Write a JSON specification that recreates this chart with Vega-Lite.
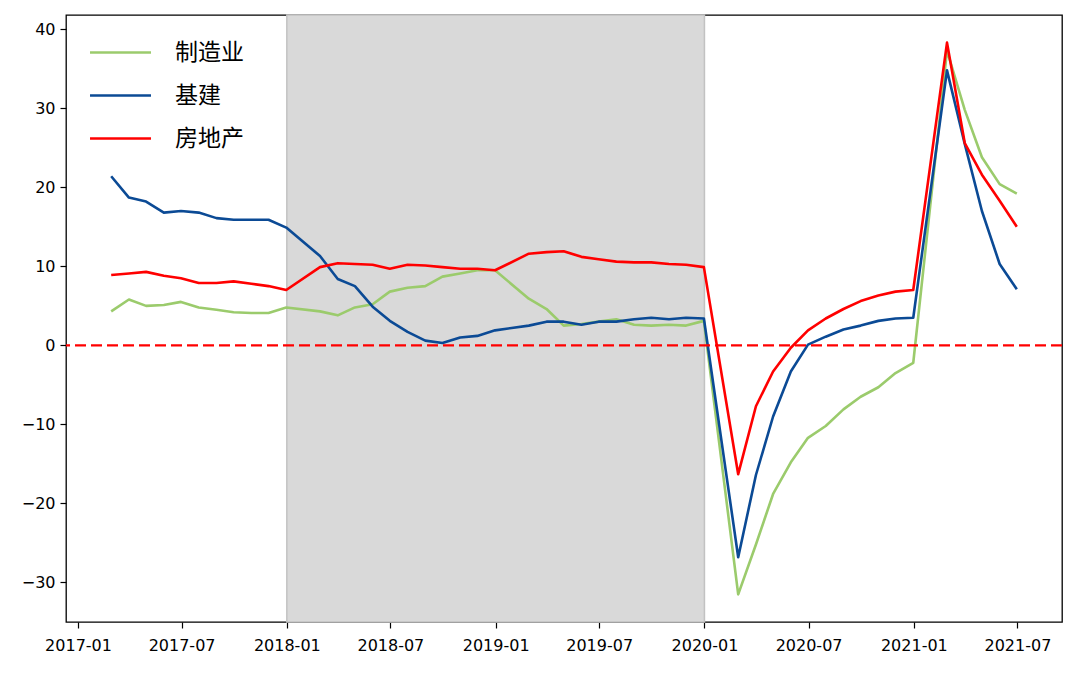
{
  "$schema": "https://vega.github.io/schema/vega-lite/v6.json",
  "width": 996,
  "height": 607,
  "autosize": {"type": "none"},
  "padding": {"left": 66, "top": 15, "right": 18, "bottom": 52},
  "background": "white",
  "config": {
    "view": {"stroke": "#000000", "strokeWidth": 1.3},
    "axis": {"grid": false, "domain": false, "tickColor": "#000000", "tickSize": 6, "tickWidth": 1.2, "labelColor": "#000000", "labelFont": "DejaVu Sans", "title": null}
  },
  "datasets": {
    "fai": [
      {"date": "2017-02-28", "制造业": 4.3, "基建": 21.4, "房地产": 8.9},
      {"date": "2017-03-31", "制造业": 5.8, "基建": 18.7, "房地产": 9.1},
      {"date": "2017-04-30", "制造业": 5.0, "基建": 18.2, "房地产": 9.3},
      {"date": "2017-05-31", "制造业": 5.1, "基建": 16.8, "房地产": 8.8},
      {"date": "2017-06-30", "制造业": 5.5, "基建": 17.0, "房地产": 8.5},
      {"date": "2017-07-31", "制造业": 4.8, "基建": 16.8, "房地产": 7.9},
      {"date": "2017-08-31", "制造业": 4.5, "基建": 16.1, "房地产": 7.9},
      {"date": "2017-09-30", "制造业": 4.2, "基建": 15.9, "房地产": 8.1},
      {"date": "2017-10-31", "制造业": 4.1, "基建": 15.9, "房地产": 7.8},
      {"date": "2017-11-30", "制造业": 4.1, "基建": 15.9, "房地产": 7.5},
      {"date": "2017-12-31", "制造业": 4.8, "基建": 14.9, "房地产": 7.0},
      {"date": "2018-02-28", "制造业": 4.3, "基建": 11.3, "房地产": 9.9},
      {"date": "2018-03-31", "制造业": 3.8, "基建": 8.4, "房地产": 10.4},
      {"date": "2018-04-30", "制造业": 4.8, "基建": 7.5, "房地产": 10.3},
      {"date": "2018-05-31", "制造业": 5.2, "基建": 4.9, "房地产": 10.2},
      {"date": "2018-06-30", "制造业": 6.8, "基建": 3.1, "房地产": 9.7},
      {"date": "2018-07-31", "制造业": 7.3, "基建": 1.7, "房地产": 10.2},
      {"date": "2018-08-31", "制造业": 7.5, "基建": 0.6, "房地产": 10.1},
      {"date": "2018-09-30", "制造业": 8.7, "基建": 0.3, "房地产": 9.9},
      {"date": "2018-10-31", "制造业": 9.1, "基建": 1.0, "房地产": 9.7},
      {"date": "2018-11-30", "制造业": 9.5, "基建": 1.2, "房地产": 9.7},
      {"date": "2018-12-31", "制造业": 9.5, "基建": 1.9, "房地产": 9.5},
      {"date": "2019-02-28", "制造业": 5.9, "基建": 2.5, "房地产": 11.6},
      {"date": "2019-03-31", "制造业": 4.6, "基建": 3.0, "房地产": 11.8},
      {"date": "2019-04-30", "制造业": 2.5, "基建": 3.0, "房地产": 11.9},
      {"date": "2019-05-31", "制造业": 2.7, "基建": 2.6, "房地产": 11.2},
      {"date": "2019-06-30", "制造业": 3.0, "基建": 3.0, "房地产": 10.9},
      {"date": "2019-07-31", "制造业": 3.3, "基建": 3.0, "房地产": 10.6},
      {"date": "2019-08-31", "制造业": 2.6, "基建": 3.3, "房地产": 10.5},
      {"date": "2019-09-30", "制造业": 2.5, "基建": 3.5, "房地产": 10.5},
      {"date": "2019-10-31", "制造业": 2.6, "基建": 3.3, "房地产": 10.3},
      {"date": "2019-11-30", "制造业": 2.5, "基建": 3.5, "房地产": 10.2},
      {"date": "2019-12-31", "制造业": 3.1, "基建": 3.4, "房地产": 9.9},
      {"date": "2020-02-29", "制造业": -31.5, "基建": -26.8, "房地产": -16.3},
      {"date": "2020-03-31", "制造业": -25.2, "基建": -16.4, "房地产": -7.7},
      {"date": "2020-04-30", "制造业": -18.8, "基建": -9.0, "房地产": -3.3},
      {"date": "2020-05-31", "制造业": -14.8, "基建": -3.3, "房地产": -0.3},
      {"date": "2020-06-30", "制造业": -11.7, "基建": 0.1, "房地产": 1.9},
      {"date": "2020-07-31", "制造业": -10.2, "基建": 1.1, "房地产": 3.4},
      {"date": "2020-08-31", "制造业": -8.1, "基建": 2.0, "房地产": 4.6},
      {"date": "2020-09-30", "制造业": -6.5, "基建": 2.5, "房地产": 5.6},
      {"date": "2020-10-31", "制造业": -5.3, "基建": 3.1, "房地产": 6.3},
      {"date": "2020-11-30", "制造业": -3.5, "基建": 3.4, "房地产": 6.8},
      {"date": "2020-12-31", "制造业": -2.2, "基建": 3.5, "房地产": 7.0},
      {"date": "2021-02-28", "制造业": 37.3, "基建": 34.8, "房地产": 38.3},
      {"date": "2021-03-31", "制造业": 29.8, "基建": 25.5, "房地产": 25.6},
      {"date": "2021-04-30", "制造业": 23.8, "基建": 17.0, "房地产": 21.6},
      {"date": "2021-05-31", "制造业": 20.4, "基建": 10.3, "房地产": 18.3},
      {"date": "2021-06-30", "制造业": 19.2, "基建": 7.1, "房地产": 15.0}
    ],
    "shade": [{"start": "2018-01-01", "end": "2020-01-01"}],
    "zero": [{"y": 0}]
  },
  "layer": [
    {
      "data": {"name": "shade"},
      "mark": {"type": "rect", "fill": "#D9D9D9", "stroke": "#C2C2C2", "strokeWidth": 1.5},
      "encoding": {
        "x": {"field": "start", "type": "temporal", "scale": {"type": "utc"}},
        "x2": {"field": "end"}
      }
    },
    {
      "data": {"name": "fai"},
      "transform": [{"fold": ["制造业", "基建", "房地产"], "as": ["series", "value"]}],
      "mark": {"type": "line", "strokeWidth": 2.6, "strokeJoin": "round"},
      "encoding": {
        "x": {
          "field": "date", "type": "temporal",
          "scale": {"type": "utc", "domain": [{"year": 2016, "month": 12, "date": 11, "utc": true}, {"year": 2021, "month": 9, "date": 17, "utc": true}]},
          "axis": {
            "format": "%Y-%m", "labelFontSize": 16, "labelPadding": 9,
            "values": [
              {"year": 2017, "month": 1, "date": 1, "utc": true},
              {"year": 2017, "month": 7, "date": 1, "utc": true},
              {"year": 2018, "month": 1, "date": 1, "utc": true},
              {"year": 2018, "month": 7, "date": 1, "utc": true},
              {"year": 2019, "month": 1, "date": 1, "utc": true},
              {"year": 2019, "month": 7, "date": 1, "utc": true},
              {"year": 2020, "month": 1, "date": 1, "utc": true},
              {"year": 2020, "month": 7, "date": 1, "utc": true},
              {"year": 2021, "month": 1, "date": 1, "utc": true},
              {"year": 2021, "month": 7, "date": 1, "utc": true}
            ]
          }
        },
        "y": {
          "field": "value", "type": "quantitative",
          "scale": {"domain": [-35.0, 41.8], "nice": false, "zero": false},
          "axis": {"values": [-30, -20, -10, 0, 10, 20, 30, 40], "labelFontSize": 16, "labelPadding": 5}
        },
        "color": {
          "field": "series", "type": "nominal",
          "scale": {"domain": ["制造业", "基建", "房地产"], "range": ["#9BCB6C", "#0B4A95", "#FF0000"]},
          "legend": {
            "orient": "none", "legendX": 43, "legendY": 26, "title": null,
            "symbolType": "M-3,0L3,0", "symbolSize": 413, "symbolStrokeWidth": 2.6,
            "labelFont": "Noto Sans CJK SC", "labelFontSize": 23, "labelColor": "#000000",
            "labelOffset": 43, "rowPadding": 19, "padding": 0
          }
        }
      }
    },
    {
      "data": {"name": "zero"},
      "mark": {"type": "rule", "color": "#FF0000", "strokeWidth": 2.2, "strokeDash": [11, 5]},
      "encoding": {"y": {"field": "y", "type": "quantitative"}}
    }
  ]
}
